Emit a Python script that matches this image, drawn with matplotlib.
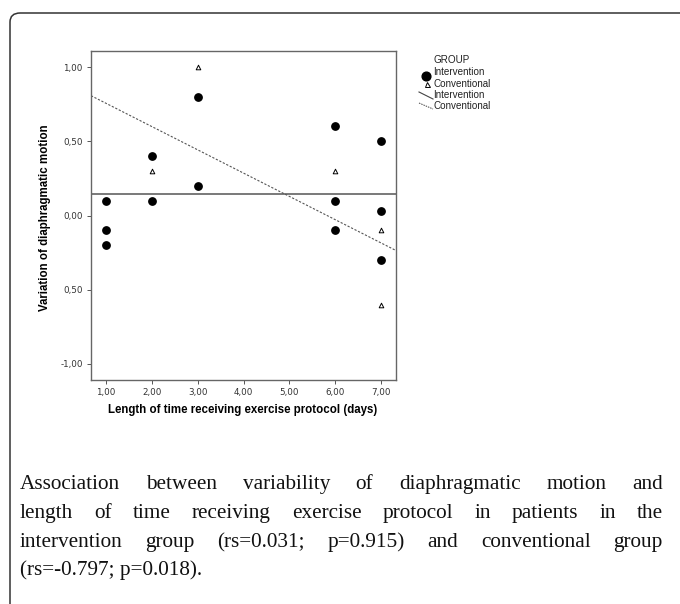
import matplotlib
matplotlib.use("Agg")
import matplotlib.pyplot as plt
from matplotlib.lines import Line2D
from matplotlib.patches import FancyBboxPatch
import numpy as np

# intervention group (filled circles)
int_days = [1, 1, 1, 2, 2, 3, 3, 6, 6, 6, 7, 7, 7]
int_var = [0.10, -0.10, -0.20, 0.40, 0.10, 0.80, 0.20, 0.60, 0.10, -0.10, 0.50, 0.03, -0.30]
# conventional group (open triangles)
conv_days = [2, 3, 6, 7, 7]
conv_var = [0.30, 1.00, 0.30, -0.10, -0.60]
# fit lines as drawn in the figure (intercept, slope)
int_fit = [0.143, 0.0]
conv_fit = [0.912, -0.1566]

x_ticks = [1, 2, 3, 4, 5, 6, 7]
x_labels = ["1,00", "2,00", "3,00", "4,00", "5,00", "6,00", "7,00"]
y_ticks = [1.0, 0.5, 0.0, -0.5, -1.0]
y_labels = ["1,00", "0,50", "0,00", "0,50", "-1,00"]

caption_lines = [
    "Association between variability of diaphragmatic motion and",
    "length of time receiving exercise protocol in patients in the",
    "intervention group (rs=0.031; p=0.915) and conventional group",
    "(rs=-0.797; p=0.018).",
]

W, H = 680, 604
fig = plt.figure(figsize=(6.8, 6.04), dpi=100)

# outer rounded frame
frame = FancyBboxPatch((10 / W, -0.2), 1.2, (H - 13) / H + 0.2,
                       boxstyle="round,pad=0,rounding_size=0.015",
                       transform=fig.transFigure, fill=False,
                       edgecolor="#333333", linewidth=1.1, clip_on=False)
fig.patches.append(frame)

ax = fig.add_axes([91 / W, 1 - 380 / H, (396 - 91) / W, (380 - 51) / H])
ax.set_xlim(0.67, 7.33)
ax.set_ylim(-1.108, 1.108)

ax.scatter(int_days, int_var, s=28, color="black", marker="o", zorder=3)
ax.scatter(conv_days, conv_var, s=11, facecolor="white", edgecolor="black",
           marker="^", linewidth=0.7, zorder=3)

xs = np.array(ax.get_xlim())
ax.plot(xs, int_fit[0] + int_fit[1] * xs, color="#555555", linewidth=1.1)
ax.plot(xs, conv_fit[0] + conv_fit[1] * xs, color="#555555", linewidth=0.8,
        linestyle=(0, (2, 1.5)))

ax.set_xticks(x_ticks)
ax.set_xticklabels(x_labels)
ax.set_yticks(y_ticks)
ax.set_yticklabels(y_labels)
ax.tick_params(direction="out", length=3, width=0.7, color="#555555",
               labelsize=6.3, labelcolor="#333333", pad=3)
for sp in ax.spines.values():
    sp.set_color("#666666")
    sp.set_linewidth(1.0)

fig.text(243 / W, 1 - 410 / H, "Length of time receiving exercise protocol (days)",
         ha="center", va="center", fontsize=8.3, fontweight="bold",
         family="Liberation Sans")
fig.text(45 / W, 1 - 218 / H, "Variation of diaphragmatic motion",
         ha="center", va="center", rotation=90, fontsize=8.3,
         fontweight="bold", family="Liberation Sans")

# legend
lf = dict(fontsize=7.1, family="Liberation Sans", va="center", ha="left",
          color="#222222")
fig.text(433 / W, 1 - 60 / H, "GROUP", **lf)
fig.text(433 / W, 1 - 72 / H, "Intervention", **lf)
fig.text(433 / W, 1 - 84 / H, "Conventional", **lf)
fig.text(433 / W, 1 - 95 / H, "Intervention", **lf)
fig.text(433 / W, 1 - 106 / H, "Conventional", **lf)
fig.lines.append(Line2D([426 / W], [1 - 76 / H], marker="o", markersize=6.3,
                        color="black", linestyle="none",
                        transform=fig.transFigure))
fig.lines.append(Line2D([427 / W], [1 - 84 / H], marker="^", markersize=3.6,
                        markerfacecolor="white", markeredgecolor="black",
                        markeredgewidth=0.7, linestyle="none",
                        transform=fig.transFigure))
fig.lines.append(Line2D([419 / W, 433 / W], [1 - 92 / H, 1 - 99 / H],
                        color="#444444", linewidth=0.8,
                        transform=fig.transFigure))
fig.lines.append(Line2D([419 / W, 433 / W], [1 - 103 / H, 1 - 109 / H],
                        color="#444444", linewidth=0.7, linestyle=(0, (1.5, 1)),
                        transform=fig.transFigure))

# justified caption (baseline aligned)
cap_left, cap_right = 20, 663
cap_base = [489, 518, 547, 575]
cap_font = dict(fontsize=15.3, family="Liberation Serif", va="baseline",
                ha="left", color="#111111")
renderer = fig.canvas.get_renderer()
for i, line in enumerate(caption_lines):
    y = 1 - cap_base[i] / H
    if i == len(caption_lines) - 1:
        fig.text(cap_left / W, y, line, **cap_font)
        continue
    words = line.split()
    texts = [fig.text(0, y, w, **cap_font) for w in words]
    widths = [t.get_window_extent(renderer).width for t in texts]
    gap = (cap_right - cap_left - sum(widths)) / (len(words) - 1)
    x = cap_left
    for t, w in zip(texts, widths):
        t.set_x(x / W)
        x += w + gap

fig.savefig("out.png", dpi=100)
